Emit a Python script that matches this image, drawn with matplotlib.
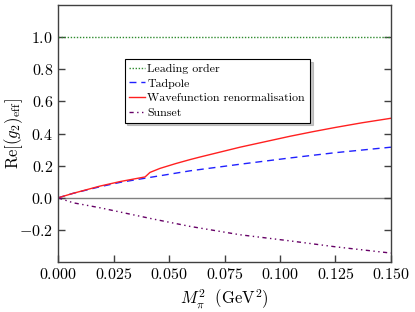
import numpy as np
import matplotlib
matplotlib.use("Agg")
import matplotlib.pyplot as plt

plt.rcParams['font.family'] = 'cmr10'
plt.rcParams['mathtext.fontset'] = 'cm'
plt.rcParams['axes.formatter.use_mathtext'] = True

# values
lo_x = [0.0, 0.15]
lo_y = [1.0, 1.0]

tad_x = [0.0, 0.0068, 0.0189, 0.0279, 0.0392, 0.0595, 0.082, 0.1045, 0.125, 0.15]
tad_y = [0.0, 0.028, 0.069, 0.096, 0.122, 0.168, 0.209, 0.248, 0.281, 0.315]

wf_x = [0.0, 0.0068, 0.0189, 0.0279, 0.0392, 0.0400, 0.0414, 0.0459, 0.0530,
        0.0595, 0.064, 0.082, 0.1045, 0.115, 0.125, 0.137, 0.15]
wf_y = [0.0, 0.028, 0.073, 0.101, 0.130, 0.140, 0.158, 0.183, 0.213,
        0.238, 0.254, 0.315, 0.383, 0.412, 0.438, 0.467, 0.495]

sun_x = [0.0, 0.0068, 0.0189, 0.0428, 0.0595, 0.082, 0.1045, 0.125, 0.15]
sun_y = [0.0, -0.031, -0.062, -0.132, -0.178, -0.230, -0.268, -0.305, -0.344]

x_ticks = [0.0, 0.025, 0.05, 0.075, 0.1, 0.125, 0.15]
y_ticks = [-0.2, 0.0, 0.2, 0.4, 0.6, 0.8, 1.0]

fig = plt.figure(figsize=(4.15, 3.12), dpi=100)
ax = fig.add_axes([0.140, 0.160, 0.802, 0.824])

ax.axhline(0.0, color='#808080', lw=1.0, zorder=1)
ax.plot(lo_x, lo_y, color='#2e8b2e', ls=(0, (1, 1.2)), lw=1.0, label='Leading order')
ax.plot(tad_x, tad_y, color='#2020ff', ls=(0, (5, 3.5)), lw=1.0, label='Tadpole')
ax.plot(wf_x, wf_y, color='#ff2020', ls='-', lw=1.0, label='Wavefunction renormalisation')
ax.plot(sun_x, sun_y, color='#660066', ls=(0, (3, 2.5, 1, 2.5, 1, 2.5)), lw=1.0, label='Sunset')

ax.set_xlim(0.0, 0.15)
ax.set_ylim(-0.4, 1.2)
ax.set_xticks(x_ticks)
ax.set_yticks(y_ticks)

for s in ax.spines.values():
    s.set_color('#404040')
    s.set_linewidth(1.0)
ax.tick_params(axis='both', direction='in', length=5, width=1.0, color='#404040',
               labelsize=11.5, top=False, right=True)

ax.set_xlabel(r'$M_\pi^2\ \ (\mathrm{GeV}^2)$', fontsize=12)
ax.set_ylabel(r'$\mathrm{Re}[(g_2)_\mathrm{eff}]$', fontsize=12)
ax.yaxis.set_label_coords(-0.10, 0.5)

leg = ax.legend(loc='upper left', bbox_to_anchor=(0.2, 0.79), fontsize=8.6,
                frameon=True, fancybox=False, shadow={'color': '#909090'},
                handlelength=1.3, handletextpad=0.2, borderpad=0.4,
                labelspacing=0.35, borderaxespad=0.0)
leg.get_frame().set_edgecolor('black')
leg.get_frame().set_linewidth(0.8)

fig.savefig('out.png', dpi=100)
